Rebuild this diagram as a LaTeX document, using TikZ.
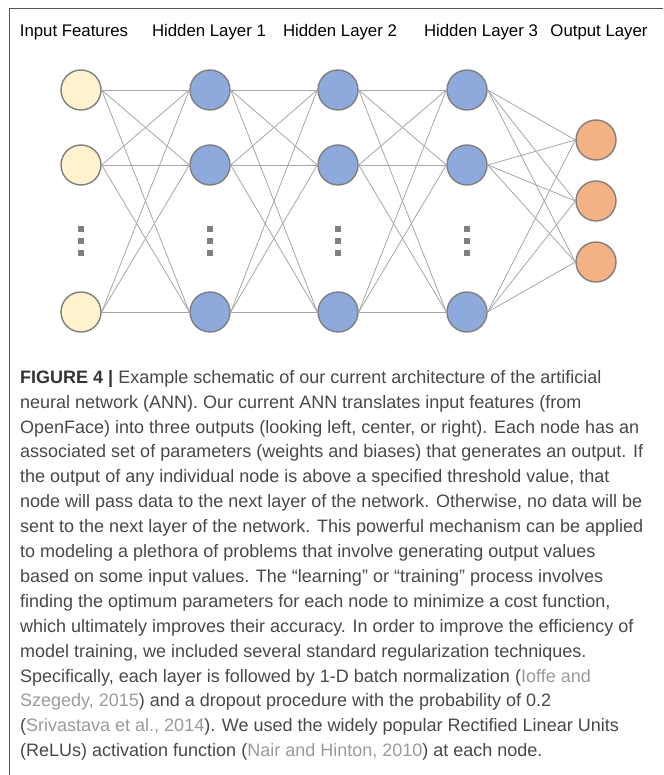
\documentclass[tikz,border=0pt]{standalone}
\usepackage{fontspec}
\setmainfont{Liberation Sans}
\usepackage{tikz}

\definecolor{inputfill}{HTML}{FFF2CC}
\definecolor{hiddenfill}{HTML}{8EA9DB}
\definecolor{outputfill}{HTML}{F4B183}
\definecolor{nodeline}{HTML}{7F7F7F}
\definecolor{edgeline}{HTML}{A6A6A6}
\definecolor{framecol}{HTML}{555555}
\definecolor{captext}{HTML}{484848}
\definecolor{citetext}{HTML}{9A9A9A}

\newcommand{\citegray}[1]{\textcolor{citetext}{#1}}

\begin{document}
\begin{tikzpicture}[x=1pt,y=-1pt,
    neuron/.style={circle, draw=nodeline, line width=1.4pt, minimum size=40pt, inner sep=0pt},
    inneuron/.style={neuron, fill=inputfill},
    hidneuron/.style={neuron, fill=hiddenfill},
    outneuron/.style={neuron, fill=outputfill},
    edge/.style={draw=edgeline, line width=0.8pt},
    vdot/.style={fill=nodeline, minimum size=6pt, inner sep=0pt},
    layerlabel/.style={font=\fontsize{16.8}{20}\selectfont}]

        \useasboundingbox (0,0) rectangle (663,775);

        % Frame of the figure
        \draw[framecol, line width=1pt] (9,775) -- (9,8.5) -- (663,8.5);

        % Labels for the layers
        \node[layerlabel] (inplabel) at (74,32) {Input Features};
        \node[layerlabel] (hid1label) at (209,32) {Hidden Layer 1};
        \node[layerlabel] (hid2label) at (340,32) {Hidden Layer 2};
        \node[layerlabel] (hid3label) at (481,32) {Hidden Layer 3};
        \node[layerlabel] (outlabel) at (599,32) {Output Layer};

        % Input Layer Nodes
        \node[inneuron] (inp-1) at (81,90) {};
        \node[inneuron] (inp-2) at (81,165) {};
        \node[inneuron] (inp-3) at (81,312) {};

        % Hidden Layer Nodes
        \foreach \l/\x in {1/210,2/338,3/467} {
            \node[hidneuron] (hid\l-1) at (\x,90) {};
            \node[hidneuron] (hid\l-2) at (\x,165) {};
            \node[hidneuron] (hid\l-3) at (\x,312) {};
        }

        % Vertical dots
        \foreach \x in {81,210,338,467}
            \foreach \y in {229,241,253}
                \node[vdot] (dot-\x-\y) at (\x,\y) {};

        % Output Layer Nodes
        \node[outneuron] (out-1) at (596,140) {};
        \node[outneuron] (out-2) at (596,201) {};
        \node[outneuron] (out-3) at (596,262) {};

        % Connect each layer to the next one
        \foreach \a/\b in {inp/hid1,hid1/hid2,hid2/hid3,hid3/out}
            \foreach \i in {1,2,3}
                \foreach \j in {1,2,3}
                    \draw[edge] (\a-\i.east) -- (\b-\j.west);

        % Caption
        \node[anchor=north west, inner sep=0pt, align=left, text=captext,
              font=\fontsize{18}{24.9}\selectfont] (caption) at (20,370) {%
            \textbf{\textcolor{black!80}{FIGURE 4 |}} Example schematic of our current architecture of the artificial\\
            neural network (ANN). Our current ANN translates input features (from\\
            OpenFace) into three outputs (looking left, center, or right). Each node has an\\
            associated set of parameters (weights and biases) that generates an output. If\\
            the output of any individual node is above a specified threshold value, that\\
            node will pass data to the next layer of the network. Otherwise, no data will be\\
            sent to the next layer of the network. This powerful mechanism can be applied\\
            to modeling a plethora of problems that involve generating output values\\
            based on some input values. The “learning” or “training” process involves\\
            finding the optimum parameters for each node to minimize a cost function,\\
            which ultimately improves their accuracy. In order to improve the efficiency of\\
            model training, we included several standard regularization techniques.\\
            Specifically, each layer is followed by 1-D batch normalization (\citegray{Ioffe and}\\
            \citegray{Szegedy, 2015}) and a dropout procedure with the probability of 0.2\\
            (\citegray{Srivastava et al., 2014}). We used the widely popular Rectified Linear Units\\
            (ReLUs) activation function (\citegray{Nair and Hinton, 2010}) at each node.};

\end{tikzpicture}
\end{document}
